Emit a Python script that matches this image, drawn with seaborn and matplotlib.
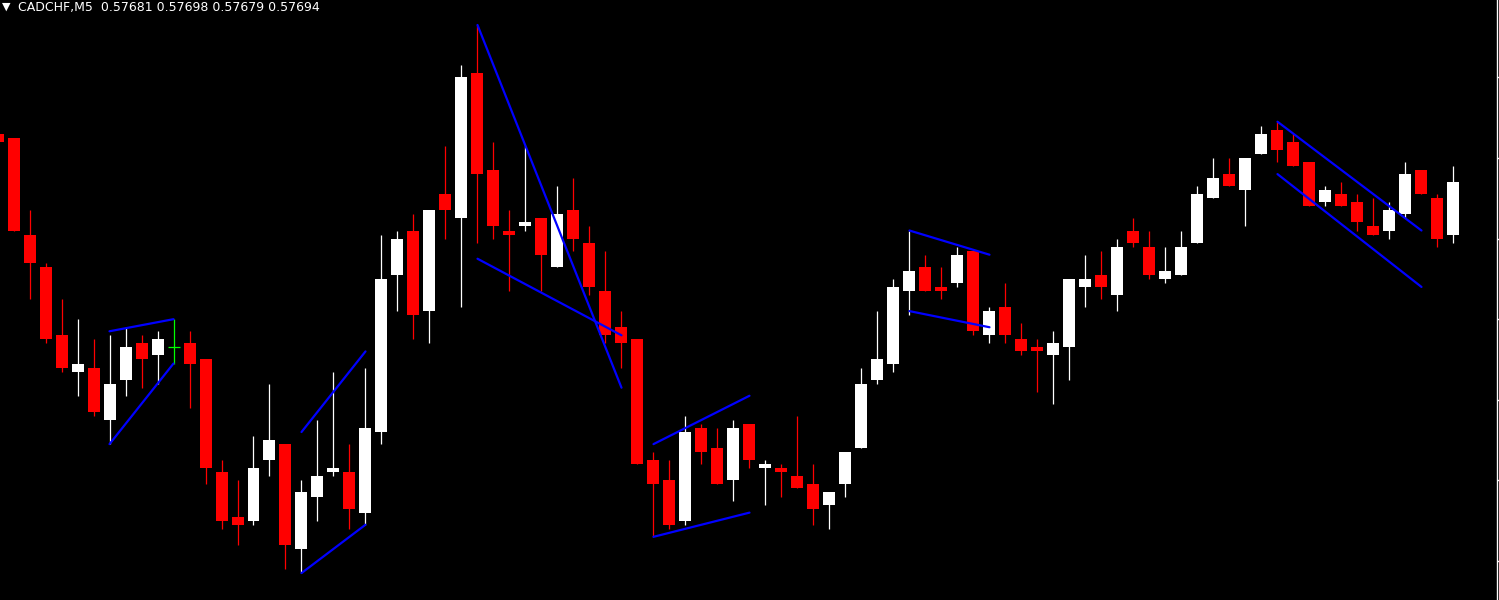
"""CADCHF M5 candlestick chart with trend lines"""
import numpy as np
import pandas as pd
import matplotlib
matplotlib.use('Agg')
import matplotlib.pyplot as plt
import seaborn as sns

symbol_title = 'CADCHF,M5  0.57681 0.57698 0.57679 0.57694'

#OHLC values, oldest bar first
opens = [0.57706, 0.57705, 0.57681, 0.57673, 0.57656, 0.57647, 0.57648, 0.57635, 0.57645, 0.57654,
         0.57651, 0.57653, 0.57654, 0.57650, 0.57622, 0.57611, 0.57610, 0.57625, 0.57629, 0.57603,
         0.57616, 0.57622, 0.57622, 0.57612, 0.57632, 0.57671, 0.57682, 0.57662, 0.57691, 0.57685,
         0.57721, 0.57697, 0.57682, 0.57683, 0.57685, 0.57673, 0.57687, 0.57679, 0.57667, 0.57658,
         0.57655, 0.57625, 0.57620, 0.57610, 0.57633, 0.57628, 0.57620, 0.57634, 0.57623, 0.57623,
         0.57621, 0.57619, 0.57614, 0.57619, 0.57628, 0.57645, 0.57649, 0.57667, 0.57673, 0.57668,
         0.57669, 0.57677, 0.57656, 0.57663, 0.57655, 0.57653, 0.57651, 0.57653, 0.57668, 0.57671,
         0.57666, 0.57682, 0.57678, 0.57670, 0.57671, 0.57679, 0.57690, 0.57696, 0.57692, 0.57701,
         0.57707, 0.57704, 0.57699, 0.57689, 0.57691, 0.57689, 0.57683, 0.57682, 0.57686, 0.57697,
         0.57690, 0.57681]
highs = [0.57706, 0.57705, 0.57687, 0.57674, 0.57665, 0.57660, 0.57655, 0.57656, 0.57658, 0.57656,
         0.57657, 0.57660, 0.57657, 0.57650, 0.57625, 0.57620, 0.57631, 0.57644, 0.57629, 0.57620,
         0.57635, 0.57647, 0.57629, 0.57648, 0.57681, 0.57682, 0.57686, 0.57687, 0.57703, 0.57723,
         0.57733, 0.57704, 0.57687, 0.57703, 0.57685, 0.57693, 0.57695, 0.57683, 0.57677, 0.57662,
         0.57655, 0.57627, 0.57625, 0.57636, 0.57634, 0.57633, 0.57635, 0.57634, 0.57625, 0.57624,
         0.57636, 0.57624, 0.57617, 0.57627, 0.57648, 0.57662, 0.57670, 0.57682, 0.57676, 0.57673,
         0.57678, 0.57677, 0.57663, 0.57669, 0.57659, 0.57655, 0.57657, 0.57670, 0.57676, 0.57677,
         0.57680, 0.57685, 0.57682, 0.57678, 0.57682, 0.57693, 0.57700, 0.57700, 0.57700, 0.57708,
         0.57709, 0.57706, 0.57699, 0.57693, 0.57694, 0.57691, 0.57690, 0.57689, 0.57699, 0.57697,
         0.57691, 0.57698]
lows = [0.57704, 0.57682, 0.57665, 0.57654, 0.57647, 0.57641, 0.57636, 0.57629, 0.57641, 0.57643,
        0.57644, 0.57649, 0.57638, 0.57619, 0.57608, 0.57604, 0.57609, 0.57621, 0.57598, 0.57597,
        0.57610, 0.57621, 0.57608, 0.57609, 0.57629, 0.57662, 0.57655, 0.57654, 0.57680, 0.57663,
        0.57679, 0.57680, 0.57667, 0.57682, 0.57667, 0.57673, 0.57677, 0.57666, 0.57654, 0.57648,
        0.57624, 0.57606, 0.57608, 0.57609, 0.57624, 0.57619, 0.57615, 0.57623, 0.57614, 0.57616,
        0.57618, 0.57609, 0.57608, 0.57616, 0.57628, 0.57644, 0.57647, 0.57661, 0.57667, 0.57665,
        0.57668, 0.57656, 0.57654, 0.57654, 0.57651, 0.57642, 0.57639, 0.57645, 0.57663, 0.57665,
        0.57662, 0.57678, 0.57670, 0.57669, 0.57671, 0.57679, 0.57690, 0.57693, 0.57683, 0.57701,
        0.57699, 0.57698, 0.57688, 0.57688, 0.57688, 0.57682, 0.57681, 0.57680, 0.57685, 0.57691,
        0.57678, 0.57679]
closes = [0.57704, 0.57682, 0.57674, 0.57655, 0.57648, 0.57649, 0.57637, 0.57644, 0.57653, 0.57650,
          0.57655, 0.57653, 0.57649, 0.57623, 0.57610, 0.57609, 0.57623, 0.57630, 0.57604, 0.57617,
          0.57621, 0.57623, 0.57613, 0.57633, 0.57670, 0.57680, 0.57661, 0.57687, 0.57687, 0.57720,
          0.57696, 0.57683, 0.57681, 0.57684, 0.57676, 0.57686, 0.57680, 0.57668, 0.57656, 0.57654,
          0.57624, 0.57619, 0.57609, 0.57632, 0.57627, 0.57619, 0.57633, 0.57625, 0.57624, 0.57622,
          0.57618, 0.57613, 0.57617, 0.57627, 0.57644, 0.57650, 0.57668, 0.57672, 0.57667, 0.57667,
          0.57676, 0.57657, 0.57662, 0.57656, 0.57652, 0.57652, 0.57654, 0.57670, 0.57670, 0.57668,
          0.57678, 0.57679, 0.57671, 0.57672, 0.57678, 0.57691, 0.57695, 0.57693, 0.57700, 0.57706,
          0.57702, 0.57698, 0.57688, 0.57692, 0.57688, 0.57684, 0.57681, 0.57687, 0.57696, 0.57691,
          0.57680, 0.57694]

#Trend lines: start bar/price and end bar/price
line_x0 = [7, 7, 19, 19, 30, 30, 41, 41, 57, 57, 80, 80]
line_y0 = [0.57657, 0.57629, 0.57632, 0.57597, 0.57733, 0.57675,
           0.57629, 0.57606, 0.57682, 0.57662, 0.57709, 0.57696]
line_x1 = [11, 11, 23, 23, 39, 39, 47, 47, 62, 62, 89, 89]
line_y1 = [0.57660, 0.57649, 0.57652, 0.57609, 0.57643, 0.57656,
           0.57641, 0.57612, 0.57676, 0.57658, 0.57682, 0.57668]

price_ticks = [0.5760, 0.5762, 0.5764, 0.5766, 0.5768, 0.5770, 0.5772]

df = pd.DataFrame({'open': opens, 'high': highs, 'low': lows, 'close': closes})
df['bar'] = np.arange(len(df))
df['colour'] = np.where(df['close'] > df['open'], 'white',
                        np.where(df['close'] < df['open'], 'red', 'lime'))

sns.set_style('dark', {'axes.facecolor': 'black', 'figure.facecolor': 'black'})
plt.rcParams['font.family'] = ['DejaVu Sans']

fig = plt.figure(figsize=(14.99, 6), dpi=100)
ax = fig.add_axes([0, 0, 1497 / 1499, 1])
ax.set_facecolor('black')

#Wicks
ax.vlines(df['bar'], df['low'], df['high'], colors=df['colour'], linewidth=0.9)

#Bodies
body_bottom = df[['open', 'close']].min(axis=1)
body_height = (df['close'] - df['open']).abs()
ax.bar(df['bar'], body_height, bottom=body_bottom, width=0.75,
       color=df['colour'], linewidth=0)

#Doji bars get a flat line
doji = df[df['close'] == df['open']]
ax.hlines(doji['open'], doji['bar'] - 0.375, doji['bar'] + 0.375,
          colors='lime', linewidth=0.9)

#Trend lines
lines = pd.DataFrame({
    'bar': line_x0 + line_x1,
    'price': line_y0 + line_y1,
    'line': list(range(len(line_x0))) * 2,
})
sns.lineplot(data=lines, x='bar', y='price', units='line', estimator=None,
             color='#0000ff', linewidth=1.6, ax=ax, legend=False)

ax.set_xlim(0.156, 93.72)
ax.set_ylim(0.5759032, 0.577392)
ax.set_xlabel('')
ax.set_ylabel('')
ax.set_xticks([])
ax.set_yticks(price_ticks)
ax.yaxis.tick_right()
ax.tick_params(axis='y', direction='out', length=3, width=1, colors='white',
               labelright=False, labelleft=False)
ax.grid(False)
for side in ['top', 'left', 'bottom']:
    ax.spines[side].set_visible(False)
ax.spines['right'].set_visible(True)
ax.spines['right'].set_color('white')
ax.spines['right'].set_linewidth(1)

#Header text
fig.text(2 / 1499, 1 - 7 / 600, '\u25bc', color='white', fontsize=8,
         ha='left', va='center')
fig.text(18 / 1499, 1 - 7 / 600, symbol_title, color='white', fontsize=9,
         ha='left', va='center')

fig.savefig('out.png', dpi=100, facecolor='black')
